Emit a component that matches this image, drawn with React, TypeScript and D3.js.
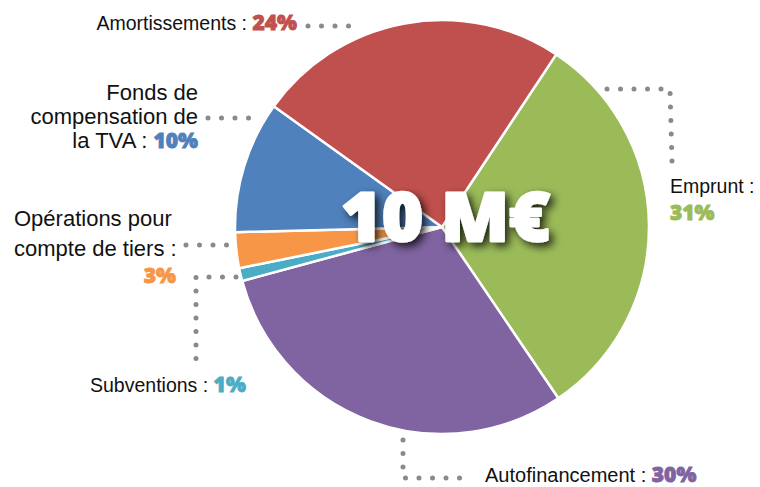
import React from "react";
import * as d3 from "d3";

const categories = ["Emprunt", "Autofinancement", "Subventions", "Opérations pour compte de tiers", "Fonds de compensation de la TVA", "Amortissements"];
const values = [31.2, 30.3, 1.0, 2.8, 10.3, 24.4];
const pctLabels = ["31%", "30%", "1%", "3%", "10%", "24%"];
const colors = ["#9BBB59", "#8064A2", "#4BACC6", "#F79646", "#4F81BD", "#C0504D"];
const totalLabel = "10 M€";

const W = 760, H = 487;
const cx = 442, cy = 227, R = 207;
const startDeg = 33.5;

const labelFont = "'Liberation Sans', Arial, sans-serif";
const pctFont = "'Open Sans', Lato, sans-serif";

function Dots({ pts }: { pts: [number, number][] }) {
  const line = d3.line();
  return (
    <path d={line(pts) || ""} fill="none" stroke="#8a8a8a" strokeWidth={5}
      strokeLinecap="round" strokeDasharray="0 13.5" />
  );
}

function Pct({ i, size = 21 }: { i: number; size?: number }) {
  return (
    <tspan fontFamily={pctFont} fontWeight={800} fontSize={size} fill={colors[i]}
      stroke={colors[i]} strokeWidth={0.9}>{pctLabels[i]}</tspan>
  );
}

export default function App() {
  const pie = d3.pie<number>().sort(null)
    .startAngle((startDeg * Math.PI) / 180)
    .endAngle((startDeg * Math.PI) / 180 + 2 * Math.PI);
  const arcs = pie(values);
  const arc = d3.arc<d3.PieArcDatum<number>>().innerRadius(0).outerRadius(R);
  const fs = 19.5;
  const fl = 22;
  return (
    <svg width={W} height={H} style={{ position: "absolute", left: 0, top: 0, background: "#fff" }}>
      <defs>
        <filter id="sh" x="-20%" y="-40%" width="140%" height="180%">
          <feDropShadow dx="4" dy="4" stdDeviation="4.5" floodColor="#000" floodOpacity="0.8" />
        </filter>
      </defs>
      <g transform={`translate(${cx},${cy})`}>
        {arcs.map((a, i) => (
          <path key={i} d={arc(a) || ""} fill={colors[i]} stroke="#fff" strokeWidth={2.5} strokeLinejoin="round" />
        ))}
      </g>
      {/* leader dots */}
      <Dots pts={[[308, 26], [350, 26]]} />
      <Dots pts={[[208, 118], [250, 118]]} />
      <Dots pts={[[607, 89], [670, 89], [672, 162]]} />
      <Dots pts={[[186, 245], [228, 245]]} />
      <Dots pts={[[236, 277], [196, 277], [196, 366]]} />
      <Dots pts={[[403, 440], [403, 478], [473, 478]]} />

      {/* labels */}
      <g fontFamily={labelFont} fontSize={fs} fill="#111">
        <text x={297} y={30} textAnchor="end">Amortissements : <Pct i={5} /></text>
        <text x={198} y={100} textAnchor="end" fontSize={fl}>Fonds de</text>
        <text x={198} y={124} textAnchor="end" fontSize={fl}>compensation de</text>
        <text x={198} y={148} textAnchor="end" fontSize={fl}>la TVA : <Pct i={4} /></text>
        <text x={14} y={226} fontSize={fl}>Opérations pour</text>
        <text x={14} y={256} fontSize={fl}>compte de tiers :</text>
        <text x={176} y={283} textAnchor="end"><Pct i={3} /></text>
        <text x={90} y={392}>Subventions : <Pct i={2} /></text>
        <text x={670} y={193}>Emprunt :</text>
        <text x={670} y={220}><Pct i={0} /></text>
        <text x={485} y={482} fontSize={20}>Autofinancement : <Pct i={1} /></text>
      </g>
      <text x={341} y={241} fontFamily={pctFont} fontWeight={800}
        fontSize={67} fill="#fff" stroke="#fff" strokeWidth={2.5} strokeLinejoin="round"
        textLength={209} lengthAdjust="spacingAndGlyphs" filter="url(#sh)">{totalLabel}</text>
    </svg>
  );
}
